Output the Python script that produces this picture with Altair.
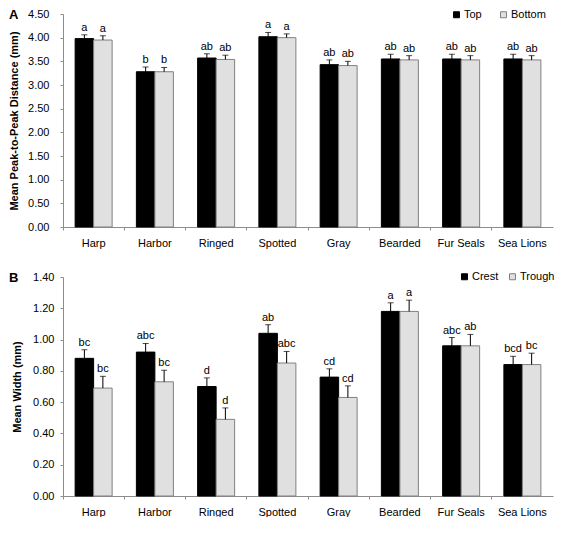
import altair as alt
import pandas as pd

FONT = "Liberation Sans"
AXIS_GRAY = "#8c8c8c"

species = ["Harp", "Harbor", "Ringed", "Spotted", "Gray", "Bearded", "Fur Seals", "Sea Lions"]

# Panel A: mean peak-to-peak distance (mm)
a_series = ["Top", "Bottom"]
a_top_mean = [3.98, 3.28, 3.57, 4.02, 3.43, 3.55, 3.55, 3.55]
a_top_se = [0.08, 0.10, 0.09, 0.09, 0.10, 0.10, 0.10, 0.10]
a_top_letters = ["a", "b", "ab", "a", "ab", "ab", "ab", "ab"]
a_bot_mean = [3.95, 3.28, 3.54, 4.00, 3.41, 3.53, 3.53, 3.53]
a_bot_se = [0.09, 0.09, 0.09, 0.08, 0.09, 0.09, 0.09, 0.09]
a_bot_letters = ["a", "b", "ab", "a", "ab", "ab", "ab", "ab"]
a_ticks = [0.0, 0.5, 1.0, 1.5, 2.0, 2.5, 3.0, 3.5, 4.0, 4.5]

# Panel B: mean width (mm)
b_series = ["Crest", "Trough"]
b_crest_mean = [0.88, 0.92, 0.70, 1.04, 0.76, 1.18, 0.96, 0.84]
b_crest_se = [0.055, 0.055, 0.055, 0.055, 0.053, 0.055, 0.053, 0.053]
b_crest_letters = ["bc", "abc", "d", "ab", "cd", "a", "abc", "bcd"]
b_trough_mean = [0.69, 0.73, 0.49, 0.85, 0.63, 1.18, 0.96, 0.84]
b_trough_se = [0.075, 0.074, 0.073, 0.074, 0.074, 0.072, 0.073, 0.073]
b_trough_letters = ["bc", "bc", "d", "abc", "cd", "a", "ab", "bc"]
b_ticks = [0.0, 0.2, 0.4, 0.6, 0.8, 1.0, 1.2, 1.4]

PLOT_W = 490
BAR_W = 18.5


def make_df(series, m1, s1, l1, m2, s2, l2):
    rows = []
    for i, sp in enumerate(species):
        rows.append(dict(species=sp, series=series[0], mean=m1[i], upper=m1[i] + s1[i], letter=l1[i]))
        rows.append(dict(species=sp, series=series[1], mean=m2[i], upper=m2[i] + s2[i], letter=l2[i]))
    return pd.DataFrame(rows)


def panel(df, series, tag_text, ytitle, ymax, ticks, height, label_pad, title_pad,
          leg_x, leg_y, col_pad):
    x = alt.X("species:N", sort=species,
              scale=alt.Scale(paddingInner=0, paddingOuter=0),
              axis=alt.Axis(title=None, labelAngle=0, bandPosition=0, tickSize=3,
                            labelPadding=7, domainColor=AXIS_GRAY, tickColor=AXIS_GRAY,
                            labelFont=FONT, labelFontSize=11, labelColor="black"))

    def yenc(field):
        return alt.Y(field, type="quantitative",
                     scale=alt.Scale(domain=[0, ymax], nice=False, zero=True),
                     axis=alt.Axis(values=ticks, format=".2f", title=ytitle, grid=False,
                                   tickSize=3, labelPadding=label_pad, titlePadding=title_pad,
                                   domainColor=AXIS_GRAY, tickColor=AXIS_GRAY,
                                   labelFont=FONT, labelFontSize=11, labelColor="black",
                                   titleFont=FONT, titleFontSize=11, titleFontWeight="bold",
                                   titleColor="black"))

    color = alt.Color("series:N", sort=series,
                      scale=alt.Scale(domain=series, range=["#000000", "#e0e0e0"]),
                      legend=alt.Legend(orient="none", legendX=leg_x, legendY=leg_y,
                                        direction="horizontal", title=None,
                                        symbolType="square", symbolSize=36,
                                        symbolStrokeWidth=1, labelFont=FONT,
                                        labelFontSize=11, labelColor="black",
                                        columnPadding=col_pad, labelOffset=2, padding=0))
    stroke = alt.Stroke("series:N", sort=series,
                        scale=alt.Scale(domain=series, range=["#000000", "#808080"]))

    layers = []
    for k, s in enumerate(series):
        off = (k - 0.5) * BAR_W
        sub = alt.Chart(df).transform_filter(alt.datum.series == s)
        layers.append(sub.mark_bar(strokeWidth=1, width=BAR_W, xOffset=off).encode(
            x=x, y=yenc("mean"), color=color, stroke=stroke))
    for k, s in enumerate(series):
        off = (k - 0.5) * BAR_W
        sub = alt.Chart(df).transform_filter(alt.datum.series == s)
        layers.append(sub.mark_rule(color="black", strokeWidth=1, xOffset=off).encode(
            x=x, y=yenc("mean"), y2="upper:Q"))
        layers.append(sub.mark_tick(color="black", thickness=1, size=6, xOffset=off).encode(
            x=x, y=yenc("upper")))
        layers.append(sub.mark_text(baseline="bottom", dy=-2, font=FONT, fontSize=11,
                                    color="black", xOffset=off).encode(
            x=x, y=yenc("upper"), text="letter:N"))
    tag = alt.Chart(pd.DataFrame({"t": [tag_text]})).mark_text(
        align="left", baseline="middle", font=FONT, fontSize=13, fontWeight="bold",
        color="black").encode(x=alt.value(-54), y=alt.value(1), text="t:N")
    layers.append(tag)
    return alt.layer(*layers).properties(width=PLOT_W, height=height)


df_a = make_df(a_series, a_top_mean, a_top_se, a_top_letters,
               a_bot_mean, a_bot_se, a_bot_letters)
df_b = make_df(b_series, b_crest_mean, b_crest_se, b_crest_letters,
               b_trough_mean, b_trough_se, b_trough_letters)

panel_a = panel(df_a, a_series, "A", "Mean Peak-to-Peak Distance (mm)", 4.5, a_ticks,
                213, 11, 8, 388, -5, 16)
panel_b = panel(df_b, b_series, "B", "Mean Width (mm)", 1.4, b_ticks,
                219, 6, 10, 396, -6, 8)

chart = alt.vconcat(panel_a, panel_b, spacing=23).resolve_scale(
    color="independent", stroke="independent", x="independent", y="independent"
).resolve_legend(color="independent", stroke="independent").properties(
    padding={"left": 0, "top": 0, "right": 0, "bottom": 0},
    background="white",
).configure_view(stroke=None)

chart.save("out.html", embed_options={"renderer": "svg", "actions": False})
